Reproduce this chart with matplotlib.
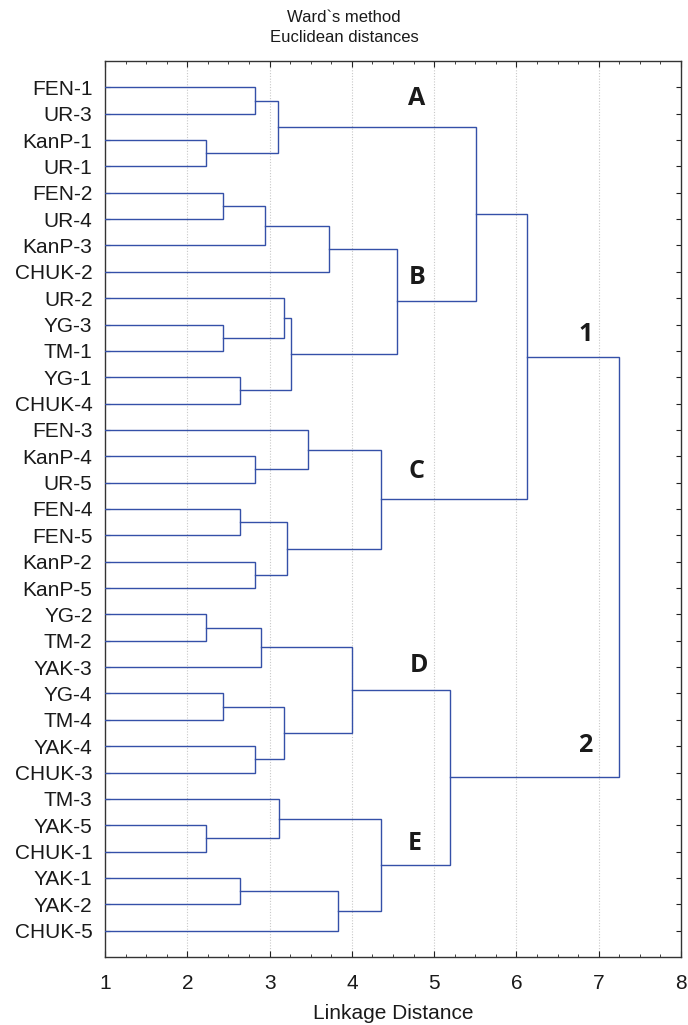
import matplotlib
matplotlib.use("Agg")
import matplotlib.pyplot as plt
from matplotlib.ticker import MultipleLocator

# ---- data ----
leaf_labels = ["FEN-1", "UR-3", "KanP-1", "UR-1", "FEN-2", "UR-4", "KanP-3", "CHUK-2",
               "UR-2", "YG-3", "TM-1", "YG-1", "CHUK-4", "FEN-3", "KanP-4", "UR-5",
               "FEN-4", "FEN-5", "KanP-2", "KanP-5", "YG-2", "TM-2", "YAK-3", "YG-4",
               "TM-4", "YAK-4", "CHUK-3", "TM-3", "YAK-5", "CHUK-1", "YAK-1", "YAK-2",
               "CHUK-5"]
# linkage: new cluster id = n_leaves + row index
merge_left = [0, 2, 33, 4, 36, 37, 9, 8, 11, 40, 38, 35, 14, 13, 16, 18, 47, 46, 44,
              20, 52, 23, 25, 54, 53, 28, 27, 30, 60, 59, 57, 51]
merge_right = [1, 3, 34, 5, 6, 7, 10, 39, 12, 41, 42, 43, 15, 45, 17, 19, 48, 49, 50,
               21, 22, 24, 26, 55, 56, 29, 58, 31, 32, 61, 62, 63]
merge_height = [2.82, 2.225, 3.10, 2.44, 2.94, 3.72, 2.44, 3.17, 2.64, 3.26, 4.55, 5.51,
                2.82, 3.47, 2.64, 2.82, 3.21, 4.35, 6.13,
                2.225, 2.90, 2.44, 2.82, 3.18, 4.00, 2.23, 3.12, 2.64, 3.83, 4.36, 5.19,
                7.25]
group_labels = ["A", "B", "C", "D", "E", "1", "2"]
group_x = [4.79, 4.79, 4.79, 4.82, 4.77, 6.84, 6.84]
group_y = [1.44, 8.22, 15.57, 22.94, 29.7, 10.38, 25.97]

x_ticks = [1, 2, 3, 4, 5, 6, 7, 8]

# ---- figure ----
plt.rcParams['font.family'] = ['Liberation Sans', 'DejaVu Sans']
fig = plt.figure(figsize=(6.88, 10.25), dpi=100)
ax = fig.add_axes([105 / 688, 1 - 957 / 1025, 576 / 688, 896 / 1025])

line_color = '#3450a8'
n = len(leaf_labels)
pos = {i: i + 1.0 for i in range(n)}
hgt = {i: 0.0 for i in range(n)}
for k, (a, b, h) in enumerate(zip(merge_left, merge_right, merge_height)):
    cid = n + k
    ya, yb = pos[a], pos[b]
    ax.plot([hgt[a], h, h, hgt[b]], [ya, ya, yb, yb], color=line_color, lw=1.0,
            solid_joinstyle='miter', zorder=3)
    pos[cid] = (ya + yb) / 2
    hgt[cid] = h

for t, gx, gy in zip(group_labels, group_x, group_y):
    ax.text(gx, gy, t, family=['Open Sans', 'DejaVu Sans'], fontweight='bold',
            fontsize=18, color='#1a1a1a', ha='center', va='center', zorder=4)

ax.set_xlim(x_ticks[0], x_ticks[-1])
ax.set_ylim(n + 1, 0)
ax.set_xticks(x_ticks)
ax.xaxis.set_minor_locator(MultipleLocator(0.25))
ax.set_yticks([pos[i] for i in range(n)])
ax.set_yticklabels(leaf_labels)
for v in x_ticks[1:-1]:
    ax.axvline(v, color='#c8c8c8', lw=0.8, ls=(0, (1, 1.5)), zorder=1)

ax.tick_params(axis='both', which='both', direction='in', top=True, right=True,
               colors='#222222', labelcolor='#1a1a1a')
ax.tick_params(axis='x', which='major', length=4, width=0.8, labelsize=15, pad=12)
ax.tick_params(axis='x', which='minor', length=2.5, width=0.6)
ax.tick_params(axis='y', which='major', length=3.5, width=0.8, labelsize=15, pad=9)
for s in ax.spines.values():
    s.set_color('#333333')
    s.set_linewidth(1.0)

ax.set_xlabel("Linkage Distance", fontsize=15, color='#1a1a1a', labelpad=8)
fig.text(0.5, 1 - 17.3 / 1025, "Ward`s method", ha='center', va='center',
         fontsize=12, color='#1a1a1a')
fig.text(0.5, 1 - 37.7 / 1025, "Euclidean distances", ha='center', va='center',
         fontsize=12, color='#1a1a1a')

fig.savefig("out.png", dpi=100)
